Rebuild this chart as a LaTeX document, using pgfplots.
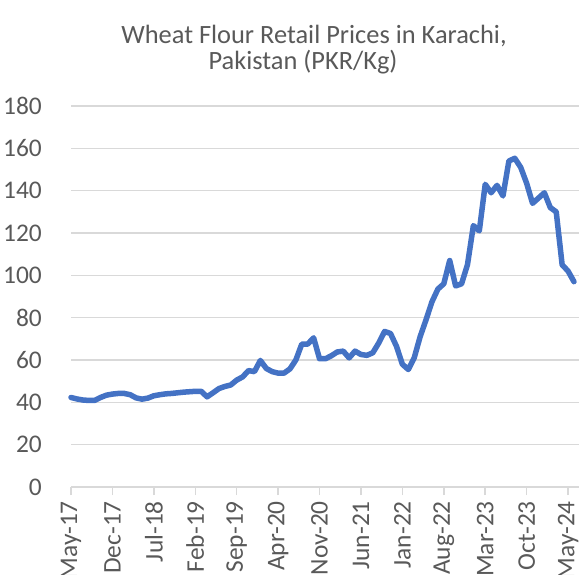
\documentclass[border=0pt]{standalone}
\usepackage{pgfplots}
\pgfplotsset{compat=1.18}
\usepackage{pgfplotstable}
\usepackage{fontspec}
\setmainfont{Carlito}
\definecolor{txt}{HTML}{595959}
\definecolor{gridc}{HTML}{D9D9D9}
\definecolor{linec}{HTML}{4472C4}

\pgfplotstableread{
i v
0 42.3
1 41.6
2 41.1
3 40.9
4 40.9
5 42.3
6 43.4
7 43.9
8 44.2
9 44.2
10 43.6
11 42.1
12 41.5
13 42.0
14 43.1
15 43.6
16 44.0
17 44.2
18 44.5
19 44.8
20 45.0
21 45.2
22 45.2
23 42.6
24 44.5
25 46.5
26 47.5
27 48.2
28 50.5
29 52.0
30 55.0
31 54.5
32 59.8
33 56.0
34 54.5
35 53.8
36 53.8
37 55.8
38 60.0
39 67.5
40 67.5
41 70.5
42 60.6
43 60.6
44 62.0
45 63.8
46 64.2
47 61.0
48 64.2
49 62.6
50 62.2
51 63.4
52 68.0
53 73.5
54 72.5
55 66.5
56 58.0
57 55.5
58 61.0
59 71.0
60 79.0
61 87.5
62 93.5
63 96.0
64 107.0
65 95.0
66 96.0
67 105.0
68 123.5
69 121.0
70 143.0
71 139.0
72 142.5
73 137.5
74 154.0
75 155.3
76 151.0
77 143.5
78 134.0
79 136.5
80 139.0
81 132.0
82 130.0
83 105.0
84 102.0
85 97.0
}\prices

\begin{document}
\begin{tikzpicture}
\path[use as bounding box] (0,0) rectangle (582bp,575bp);
\begin{axis}[
  at={(71bp,88bp)}, anchor=south west,
  scale only axis, width=508bp, height=381bp,
  xmin=0, xmax=85.85, ymin=0, ymax=180,
  ytick={0,20,...,180},
  xtick={0,7,...,84},
  xticklabels={May-17,Dec-17,Jul-18,Feb-19,Sep-19,Apr-20,Nov-20,Jun-21,Jan-22,Aug-22,Mar-23,Oct-23,May-24},
  ymajorgrids,
  major grid style={draw=gridc, line width=1.5bp},
  axis line style={draw=none},
  xtick pos=left,
  tick align=outside,
  major tick length=8bp,
  xtick style={draw=gridc, line width=1.5bp},
  ytick style={draw=none},
  /pgf/number format/assume math mode=true,
  tick label style={font=\fontsize{25.5}{30}\selectfont, text=txt},
  xticklabel style={rotate=90, anchor=east, inner sep=0pt},
  yticklabel style={anchor=east, inner sep=0pt},
  xticklabel shift=6bp,
  yticklabel shift=21bp,
  clip=false,
]
\addplot[color=linec, line width=5.5bp, line join=round, line cap=round] table[x=i, y=v] {\prices};
\end{axis}
\node[text=txt, font=\fontsize{26.5}{30}\selectfont] at (314bp,539bp) {Wheat Flour Retail Prices in Karachi,};
\node[text=txt, font=\fontsize{26.5}{30}\selectfont] at (303bp,513bp) {Pakistan (PKR/Kg)};
\end{tikzpicture}
\end{document}
